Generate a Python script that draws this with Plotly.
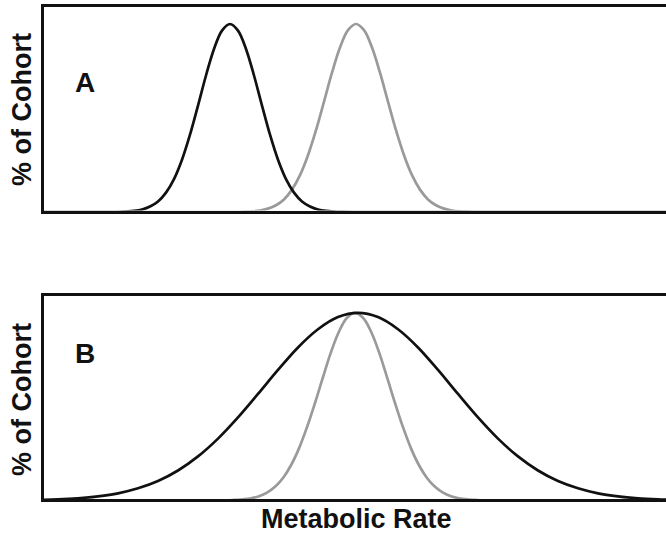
import plotly.graph_objects as go

# Metabolic rate (arbitrary units) and % of cohort
a_black_x = [0, 76, 84, 92, 100, 108, 116, 124, 132, 140, 148, 156, 164, 172, 180, 188,
             196, 204, 212, 220, 228, 236, 244, 252, 260, 268, 276, 284, 292, 300, 310, 624]
a_black_y = [0, 0, 0.25, 0.6, 1.35, 2.9, 5.6, 10.3, 17.5, 27.8, 41.1, 56.6, 72.6, 86.7, 96.5, 100,
             96.5, 86.7, 72.6, 56.6, 41.1, 27.8, 17.5, 10.3, 5.6, 2.9, 1.35, 0.6, 0.25, 0.1, 0, 0]

a_gray_x = [0, 194, 202, 210, 218, 226, 234, 242, 250, 258, 266, 274, 282, 290, 298, 306,
            314, 322, 330, 338, 346, 354, 362, 370, 378, 386, 394, 402, 410, 418, 426, 436, 624]
a_gray_y = [0, 0, 0.15, 0.36, 0.8, 1.8, 3.6, 6.7, 11.9, 19.6, 30.2, 43.5, 58.7, 74.1, 87.5, 96.7,
            100, 96.7, 87.5, 74.1, 58.7, 43.5, 30.2, 19.6, 11.9, 6.7, 3.6, 1.8, 0.8, 0.36, 0.15, 0, 0]

b_black_x = [0, 16, 36, 56, 76, 96, 116, 136, 156, 176, 196, 216, 236, 256, 276, 296,
             316, 336, 356, 376, 396, 416, 436, 456, 476, 496, 516, 536, 556, 576, 596,
             616, 624]
b_black_y = [0.35, 0.6, 1.2, 2.2, 3.8, 6.5, 10.4, 16.0, 23.5, 33.0, 44.3, 56.8, 69.6, 81.6, 91.3, 97.8,
             100, 97.8, 91.3, 81.6, 69.6, 56.8, 44.3, 33.0, 23.5, 16.0, 10.4, 6.5, 3.8, 2.2, 1.2,
             0.6, 0.45]

b_gray_x = [0, 185, 193, 201, 209, 217, 225, 233, 241, 249, 257, 265, 273, 281, 289, 297,
            305, 313, 321, 329, 337, 345, 353, 361, 369, 377, 385, 393, 401, 409, 417,
            425, 433, 441, 624]
b_gray_y = [0, 0, 0.3, 0.6, 1.2, 2.3, 4.2, 7.3, 12.0, 18.8, 27.8, 39.1, 52.0, 65.8, 79.1, 90.1,
            97.4, 100, 97.4, 90.1, 79.1, 65.8, 52.0, 39.1, 27.8, 18.8, 12.0, 7.3, 4.2, 2.3, 1.2,
            0.6, 0.3, 0, 0]

panel_labels = ["A", "B"]
y_title = "% of Cohort"
x_title = "Metabolic Rate"

W, H = 666, 535
BLACK = "#111111"
GRAY = "#9a9a9a"
FONT = "Liberation Sans, Arial, sans-serif"

fig = go.Figure()

def add(x, y, color, xa, ya):
    fig.add_trace(go.Scatter(x=x, y=y, mode="lines", xaxis=xa, yaxis=ya,
                             line=dict(color=color, width=2.7, shape="spline", smoothing=1),
                             hoverinfo="skip", showlegend=False))

add(a_gray_x, a_gray_y, GRAY, "x", "y")
add(a_black_x, a_black_y, BLACK, "x", "y")
add(b_gray_x, b_gray_y, GRAY, "x2", "y2")
add(b_black_x, b_black_y, BLACK, "x2", "y2")

xd = [43.5 / W, 1]
ax_common = dict(showgrid=False, zeroline=False, showticklabels=False, ticks="",
                 showline=True, linecolor=BLACK, linewidth=3, fixedrange=True)

fig.update_layout(
    width=W, height=H,
    margin=dict(l=0, r=0, t=0, b=0),
    plot_bgcolor="white", paper_bgcolor="white",
    xaxis=dict(domain=xd, range=[1.5, 624], mirror=True, anchor="y", **ax_common),
    yaxis=dict(domain=[(H - 210.5) / H, (H - 6.5) / H], range=[0.8, 109.3], anchor="x", **ax_common),
    xaxis2=dict(domain=xd, range=[1.5, 624], mirror=True, anchor="y2", **ax_common),
    yaxis2=dict(domain=[(H - 499) / H, (H - 295.5) / H], range=[0.8, 109.3], anchor="x2", **ax_common),
)

tf = dict(family=FONT, size=27, color=BLACK, weight="bold")
lf = dict(family=FONT, size=28, color=BLACK, weight="bold")

ann = []
for cy in (110, 400):
    ann.append(dict(text=y_title, x=22 / W, y=1 - cy / H, xref="paper", yref="paper",
                    textangle=-90, showarrow=False, xanchor="center", yanchor="middle", font=tf))
for lab, cy in zip(panel_labels, (82, 353)):
    ann.append(dict(text=lab, x=85 / W, y=1 - cy / H, xref="paper", yref="paper",
                    showarrow=False, xanchor="center", yanchor="middle", font=lf))
ann.append(dict(text=x_title, x=356 / W, y=1 - 519 / H, xref="paper", yref="paper",
                showarrow=False, xanchor="center", yanchor="middle", font=tf))
fig.update_layout(annotations=ann)

fig.write_html("out.html", config={"displayModeBar": False},
               post_script="document.body.style.margin='0px';")
